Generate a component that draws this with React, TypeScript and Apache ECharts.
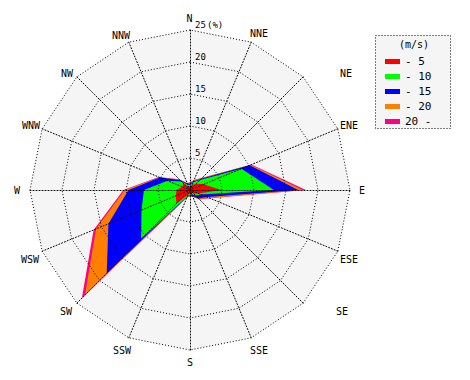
import React, { useEffect, useRef } from 'react';
import * as echarts from 'echarts';

// ---- data ----
const directions = ['N', 'NNE', 'NE', 'ENE', 'E', 'ESE', 'SE', 'SSE', 'S', 'SSW', 'SW', 'WSW', 'W', 'WNW', 'NW', 'NNW'];
const speedClasses = ['- 5', '- 10', '- 15', '- 20', '20 -'];
// frequency (%) of each wind-speed class per direction
const freqTo5 = [0.5, 0.8, 1.4, 2.3, 4.9, 1.4, 0.8, 0.5, 0.6, 0.8, 3.0, 2.4, 2.1, 1.3, 1.5, 0.6];
const freqTo10 = [0.3, 0.5, 0.8, 6.4, 8.2, 0.4, 0.4, 0.2, 0.2, 0.2, 7.8, 5.8, 5.1, 2.5, 0.4, 0.3];
const freqTo15 = [0.2, 0.2, 0.3, 1.4, 3.8, 1.1, 0.7, 0.3, 0.1, 0.1, 7.6, 5.6, 2.4, 1.3, 0.3, 0.2];
const freqTo20 = [0.1, 0.1, 0.1, 0.2, 0.7, 0.4, 0.1, 0.1, 0.1, 0.1, 4.8, 2.1, 0.6, 0.1, 0.1, 0.1];
const freqOver20 = [0.1, 0.1, 0.1, 0.1, 0.5, 0.1, 0.1, 0.1, 0.0, 0.1, 0.7, 0.4, 0.2, 0.1, 0.1, 0.0];
const radiusTicks = [5, 10, 15, 20, 25];
const radiusMax = 25;
const unitLabel = '(%)';
const legendTitle = '(m/s)';

// ---- styles / layout ----
const classColors = ['#ff0000', '#00ff00', '#0000ff', '#ff8000', '#ff0080'];
const FONT = '"DejaVu Sans Mono", monospace';
const CX = 190;
const CY = 190;
const R = 160;
const labelPos: Record<string, [number, number]> = {
  N: [189.5, 18.5], NNE: [259, 33], NE: [346, 73], ENE: [349, 125], E: [362, 190],
  ESE: [349, 259], SE: [342, 311], SSE: [259, 350], S: [190, 362], SSW: [122, 350],
  SW: [66, 311], WSW: [30, 259], W: [17, 190], WNW: [31, 125], NW: [67, 73], NNW: [121, 35],
};

export default function App() {
  const ref = useRef<HTMLDivElement>(null);
  useEffect(() => {
    if (!ref.current) return;
    const chart = echarts.init(ref.current, undefined, { renderer: 'svg' });
    const classes = [freqTo5, freqTo10, freqTo15, freqTo20, freqOver20];
    const cumulative: number[][] = [];
    classes.forEach((arr, k) => {
      cumulative.push(arr.map((v, i) => +(v + (k > 0 ? cumulative[k - 1][i] : 0)).toFixed(2)));
    });
    // radar goes counter-clockwise, so reverse order after N to get clockwise compass
    const order = [0, ...Array.from({ length: directions.length - 1 }, (_, j) => directions.length - 1 - j)];
    const indicator = order.map((i) => ({ name: directions[i], min: 0, max: radiusMax }));
    const dotted = { color: '#000', width: 1, type: [1, 2] as any };
    const baseRadar = {
      center: [CX, CY], radius: R, startAngle: 90, shape: 'polygon', splitNumber: 5,
      indicator, axisName: { show: false }, axisTick: { show: false }, axisLabel: { show: false },
    };
    const series = [4, 3, 2, 1, 0].map((k) => ({
      type: 'radar', radarIndex: 0, name: speedClasses[k], symbol: 'none', silent: true, z: 2,
      itemStyle: { color: classColors[k] },
      lineStyle: { width: 0, opacity: 0, color: classColors[k] },
      areaStyle: { color: classColors[k], opacity: 1 },
      emphasis: { disabled: true },
      data: [{ value: order.map((i) => cumulative[k][i]), name: speedClasses[k] }],
    }));
    const graphic: any[] = [
      {
        type: 'rect', z: 0, shape: { x: 375.5, y: 35.5, width: 75, height: 93 },
        style: { fill: '#f5f5f5', stroke: '#000', lineWidth: 1, lineDash: [1, 2] },
      },
      {
        type: 'text', z: 5, x: 414, y: 44,
        style: { text: legendTitle, font: `10px ${FONT}`, fill: '#000', textAlign: 'center', textVerticalAlign: 'middle' },
      },
      ...directions.map((d) => ({
        type: 'text', z: 5, x: labelPos[d][0], y: labelPos[d][1],
        style: { text: d, font: `10px ${FONT}`, fill: '#000', textAlign: 'center', textVerticalAlign: 'middle' },
      })),
      ...radiusTicks.map((v) => ({
        type: 'text', z: 6, x: CX + 5, y: CY - (v / radiusMax) * R - 1,
        style: { text: String(v), font: `9px ${FONT}`, fill: '#000', textAlign: 'left', textVerticalAlign: 'bottom' },
      })),
      {
        type: 'text', z: 6, x: CX + 17, y: CY - R - 1,
        style: { text: unitLabel, font: `9px ${FONT}`, fill: '#000', textAlign: 'left', textVerticalAlign: 'bottom' },
      },
    ];
    chart.setOption({
      animation: false,
      backgroundColor: '#fff',
      radar: [
        {
          ...baseRadar, z: 1,
          axisLine: { show: false }, splitLine: { show: false },
          splitArea: { show: true, areaStyle: { color: ['#f5f5f5'] } },
        },
        {
          ...baseRadar, z: 5,
          axisLine: { show: true, lineStyle: dotted },
          splitLine: { show: true, lineStyle: dotted },
          splitArea: { show: false },
        },
      ],
      legend: {
        orient: 'vertical', left: 380, top: 51, itemWidth: 15, itemHeight: 5, itemGap: 4,
        icon: 'rect', selectedMode: false, data: speedClasses, z: 4,
        itemStyle: { borderWidth: 0 },
        textStyle: { fontFamily: FONT, fontSize: 11, color: '#000', lineHeight: 11 },
      },
      graphic,
      series,
    });
    return () => chart.dispose();
  }, []);
  return <div ref={ref} style={{ position: 'fixed', left: 0, top: 0, width: 470, height: 380, background: '#fff' }} />;
}
